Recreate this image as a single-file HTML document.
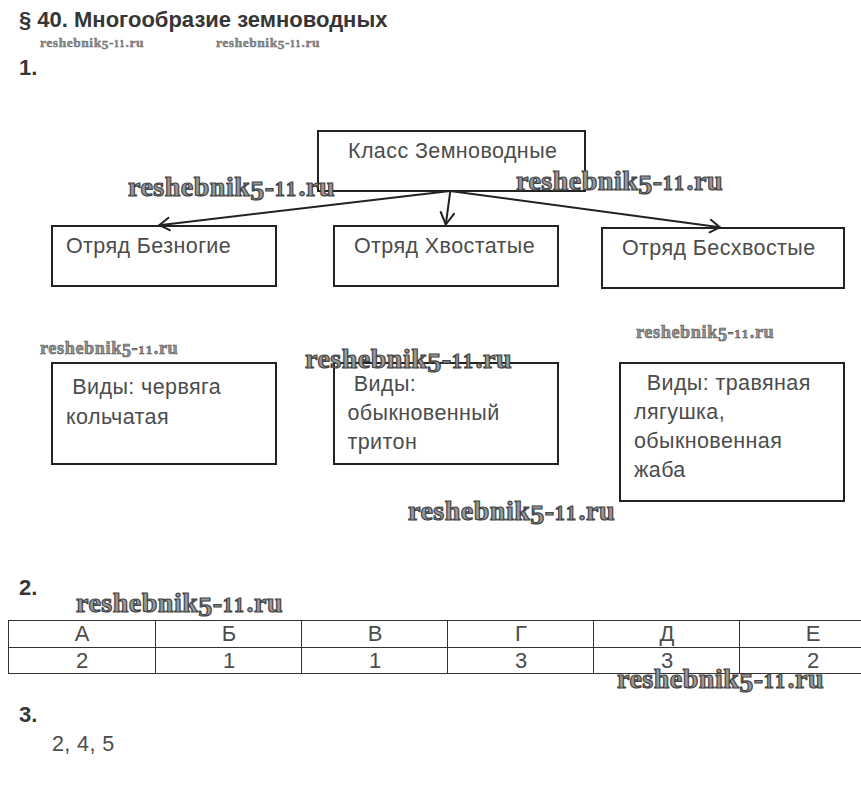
<!DOCTYPE html>
<html><head><meta charset="utf-8">
<style>
html,body{margin:0;padding:0;background:#fff;width:861px;height:804px;overflow:hidden;position:relative}
.t{position:absolute;white-space:pre;font-family:"Liberation Sans",sans-serif;color:#4c4c4c;line-height:22px;font-size:21.5px;letter-spacing:0.4px}
.b{font-weight:bold;color:#363636;font-size:22px;letter-spacing:0}
.box{position:absolute;border:2px solid #222;box-sizing:border-box}
.h{position:absolute;height:1px;background:#333;left:8px;width:853px}
.v{position:absolute;width:1px;background:#333;top:620px;height:54px}
.c{position:absolute;width:146px;text-align:center;font-family:"Liberation Sans",sans-serif;font-size:22px;line-height:22px;color:#4c4c4c}
.wm{position:absolute;white-space:pre;font-family:"Liberation Serif",serif;font-weight:bold;line-height:1;color:#999;letter-spacing:0.018em;-webkit-text-stroke:1.2px #444}
.wm .f{position:relative;top:0.143em}
.wm .e{font-size:0.714em;letter-spacing:0.125em}
.ws{font-size:13.5px;letter-spacing:0.55px;color:#8a8a8a;-webkit-text-stroke:0.35px #5a5a5a}
.wmm{font-size:18.2px;letter-spacing:0.6px;color:#959595;-webkit-text-stroke:0.6px #555}
.wb{font-size:28px}
</style></head><body>
<div class="t b" style="left:19px;top:9px">§ 40. Многообразие земноводных</div>
<div class="t b" style="left:19px;top:57px">1.</div>

<div class="box" style="left:317px;top:130px;width:269px;height:62px"></div>
<div class="box" style="left:51px;top:225px;width:226px;height:62px"></div>
<div class="box" style="left:333px;top:225px;width:226px;height:62px"></div>
<div class="box" style="left:601px;top:227px;width:244px;height:62px"></div>
<div class="box" style="left:51px;top:362px;width:226px;height:103px"></div>
<div class="box" style="left:333px;top:362px;width:226px;height:103px"></div>
<div class="box" style="left:619px;top:362px;width:226px;height:140px"></div>

<svg style="position:absolute;left:0;top:0" width="861" height="804">
<g stroke="#222" stroke-width="2" fill="none" stroke-linecap="round" stroke-linejoin="round">
<line x1="450" y1="191" x2="159.2" y2="225.2"/>
<polyline points="168.5,217.8 159.2,225.2 169.8,230.2"/>
<line x1="450.3" y1="191" x2="445.8" y2="224.5"/>
<polyline points="440.7,212 445.8,224.5 454,213.8"/>
<line x1="450" y1="191" x2="719.8" y2="227.3"/>
<polyline points="710.9,219.8 719.8,227.3 709.6,232.4"/>
</g>
</svg>

<div class="t" style="left:348px;top:140px">Класс Земноводные</div>
<div class="t" style="left:66px;top:235px">Отряд Безногие</div>
<div class="t" style="left:354px;top:235px">Отряд Хвостатые</div>
<div class="t" style="left:622px;top:237px">Отряд Бесхвостые</div>

<div class="t" style="left:66px;top:372.3px;line-height:30px"> Виды: червяга
кольчатая</div>
<div class="t" style="left:347.5px;top:370px;line-height:28.75px"> Виды:
обыкновенный
тритон</div>
<div class="t" style="left:634px;top:368.5px;line-height:29px">  Виды: травяная
лягушка,
обыкновенная
жаба</div>

<div class="t b" style="left:19px;top:577px">2.</div>
<div class="h" style="top:620px"></div>
<div class="h" style="top:647px"></div>
<div class="h" style="top:673px"></div>
<div class="v" style="left:8px"></div>
<div class="v" style="left:155px"></div>
<div class="v" style="left:301px"></div>
<div class="v" style="left:447px"></div>
<div class="v" style="left:593px"></div>
<div class="v" style="left:739px"></div>
<div class="c" style="left:9px;top:623px">А</div>
<div class="c" style="left:156px;top:623px">Б</div>
<div class="c" style="left:302px;top:623px">В</div>
<div class="c" style="left:448px;top:623px">Г</div>
<div class="c" style="left:594px;top:623px">Д</div>
<div class="c" style="left:740px;top:623px">Е</div>
<div class="c" style="left:9px;top:650px">2</div>
<div class="c" style="left:156px;top:650px">1</div>
<div class="c" style="left:302px;top:650px">1</div>
<div class="c" style="left:448px;top:650px">3</div>
<div class="c" style="left:594px;top:650px">3</div>
<div class="c" style="left:740px;top:650px">2</div>

<div class="t b" style="left:19px;top:704px">3.</div>
<div class="t" style="left:52px;top:733px">2, 4, 5</div>

<div class="wm ws" style="left:40px;top:36px">reshebnik<span class="f">5</span>-<span class="e">11</span>.ru</div>
<div class="wm ws" style="left:216px;top:36px">reshebnik<span class="f">5</span>-<span class="e">11</span>.ru</div>
<div class="wm wb" style="left:128px;top:173px">reshebnik<span class="f">5</span>-<span class="e">11</span>.ru</div>
<div class="wm wb" style="left:516px;top:167px">reshebnik<span class="f">5</span>-<span class="e">11</span>.ru</div>
<div class="wm wmm" style="left:40px;top:339px">reshebnik<span class="f">5</span>-<span class="e">11</span>.ru</div>
<div class="wm wmm" style="left:636px;top:323px">reshebnik<span class="f">5</span>-<span class="e">11</span>.ru</div>
<div class="wm wb" style="left:305px;top:345px">reshebnik<span class="f">5</span>-<span class="e">11</span>.ru</div>
<div class="wm wb" style="left:408px;top:497px">reshebnik<span class="f">5</span>-<span class="e">11</span>.ru</div>
<div class="wm wb" style="left:76px;top:589px">reshebnik<span class="f">5</span>-<span class="e">11</span>.ru</div>
<div class="wm wb" style="left:617px;top:665px">reshebnik<span class="f">5</span>-<span class="e">11</span>.ru</div>
</body></html>
